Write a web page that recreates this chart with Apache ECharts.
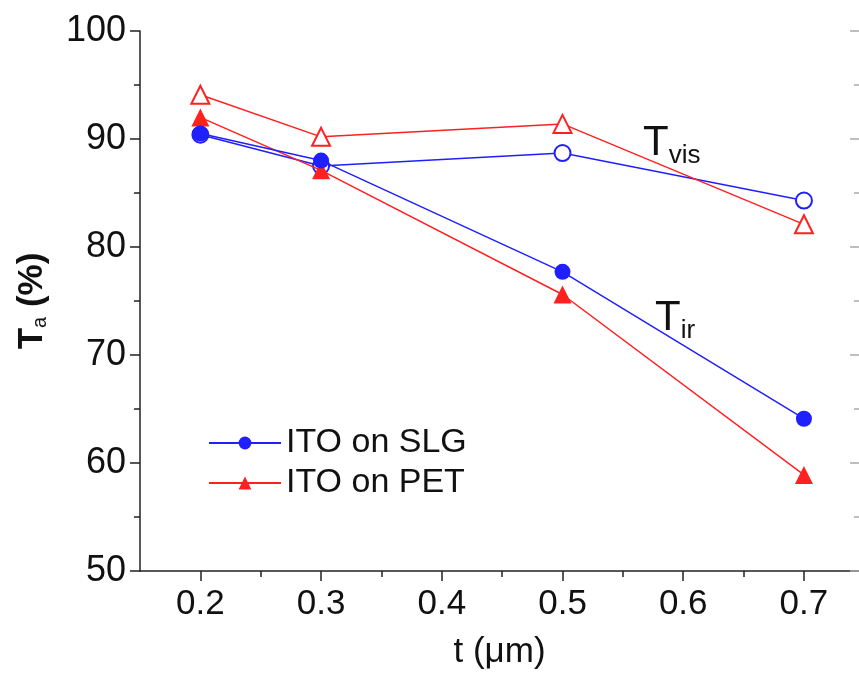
<!DOCTYPE html>
<html>
<head>
<meta charset="utf-8">
<script src="https://cdn.jsdelivr.net/npm/echarts@6/dist/echarts.min.js"></script>
<style>html,body{margin:0;padding:0;background:#fff}#c{width:859px;height:675px}</style>
</head>
<body>
<div id="c"></div>
<script>
// thickness t (um)
const thickness = [0.2, 0.3, 0.5, 0.7];
// Transmittance (%)
const slgIr  = [90.5, 88.0, 77.7, 64.1];
const petIr  = [92.0, 87.1, 75.6, 58.9];
const slgVis = [90.4, 87.5, 88.7, 84.3];
const petVis = [94.1, 90.2, 91.4, 82.1];
const xTickLabels = [0.2, 0.3, 0.4, 0.5, 0.6, 0.7];
const xMinorTicks = [0.25, 0.35, 0.45, 0.55, 0.65];

const FONT = '"Liberation Sans", Arial, sans-serif';
const BLUE = '#1f1fff';
const RED = '#ff2020';
const pts = v => thickness.map((t, i) => [t, v[i]]);

const chart = echarts.init(document.getElementById('c'), null, {renderer: 'canvas'});
const axisLine = {show: true, lineStyle: {color: '#222', width: 1.5}};
chart.setOption({
  animation: false,
  backgroundColor: '#fff',
  grid: {left: 140, top: 31, width: 719, height: 541},
  legend: {
    data: ['ITO on SLG', 'ITO on PET'],
    orient: 'vertical', left: 203, top: 421, itemGap: 6,
    itemWidth: 72, itemHeight: 16,
    textStyle: {fontFamily: FONT, fontSize: 34, color: '#111'}
  },
  xAxis: [{
    type: 'value', min: 0.15, max: 0.7456,
    axisLine: axisLine,
    splitLine: {show: false},
    axisTick: {show: true, length: 10, inside: false, customValues: xTickLabels, lineStyle: {color: '#222', width: 1.5}},
    axisLabel: {customValues: xTickLabels, formatter: v => v.toFixed(1), margin: 16, fontFamily: FONT, fontSize: 35, color: '#111'},
    name: 't (μm)', nameLocation: 'middle', nameGap: 64,
    nameTextStyle: {fontFamily: FONT, fontSize: 35, color: '#111'}
  }, {
    type: 'value', min: 0.15, max: 0.7456, position: 'bottom',
    axisLine: {show: false}, splitLine: {show: false},
    axisTick: {show: true, length: 6, customValues: xMinorTicks, lineStyle: {color: '#222', width: 1.5}},
    axisLabel: {show: false}
  }],
  yAxis: [{
    type: 'value', min: 50, max: 100, interval: 10,
    axisLine: axisLine,
    splitLine: {show: false},
    axisTick: {show: true, length: 10, lineStyle: {color: '#222', width: 1.5}},
    minorTick: {show: true, splitNumber: 2, length: 6, lineStyle: {color: '#222', width: 1.5}},
    axisLabel: {margin: 14, fontFamily: FONT, fontSize: 36, color: '#111'},
    name: '{t|T}{s|a}{t| (%)}', nameLocation: 'middle', nameGap: 90, nameRotate: 90,
    nameTextStyle: {rich: {
      t: {fontFamily: FONT, fontSize: 35, fontWeight: 'bold', color: '#111'},
      s: {fontFamily: FONT, fontSize: 20, color: '#111', verticalAlign: 'bottom', padding: [14, 0, 0, 0]}
    }}
  }, {
    type: 'value', min: 50, max: 100, interval: 10, position: 'right',
    axisLine: {show: false}, splitLine: {show: false},
    axisTick: {show: true, inside: true, length: 9, lineStyle: {color: '#aaa', width: 1.5}},
    minorTick: {show: true, splitNumber: 2, length: 5, lineStyle: {color: '#aaa', width: 1.5}},
    axisLabel: {show: false}
  }],
  graphic: [{
    type: 'text', left: 643, top: 122,
    style: {rich: {t: {fontFamily: FONT, fontSize: 42, fill: '#111'}, s: {fontFamily: FONT, fontSize: 26, fill: '#111', padding: [26, 0, 0, 0]}},
      text: '{t|T}{s|vis}'}
  }, {
    type: 'text', left: 655, top: 297,
    style: {rich: {t: {fontFamily: FONT, fontSize: 42, fill: '#111'}, s: {fontFamily: FONT, fontSize: 26, fill: '#111', padding: [26, 0, 0, 0]}},
      text: '{t|T}{s|ir}'}
  }],
  series: [{
    name: 'SLG vis', type: 'line', data: pts(slgVis), z: 2,
    symbol: 'emptyCircle', symbolSize: 16,
    lineStyle: {color: BLUE, width: 1.5}, itemStyle: {color: BLUE, borderColor: BLUE, borderWidth: 1.5}
  }, {
    name: 'PET vis', type: 'line', data: pts(petVis), z: 2,
    symbol: 'emptyTriangle', symbolSize: 18,
    lineStyle: {color: RED, width: 1.5}, itemStyle: {color: RED, borderColor: RED, borderWidth: 1.5}
  }, {
    name: 'ITO on PET', type: 'line', data: pts(petIr), z: 3,
    symbol: 'triangle', symbolSize: 18,
    lineStyle: {color: RED, width: 1.5}, itemStyle: {color: RED}
  }, {
    name: 'ITO on SLG', type: 'line', data: pts(slgIr), z: 4,
    symbol: 'circle', symbolSize: 16,
    lineStyle: {color: BLUE, width: 1.5}, itemStyle: {color: BLUE}
  }]
});
</script>
</body>
</html>
